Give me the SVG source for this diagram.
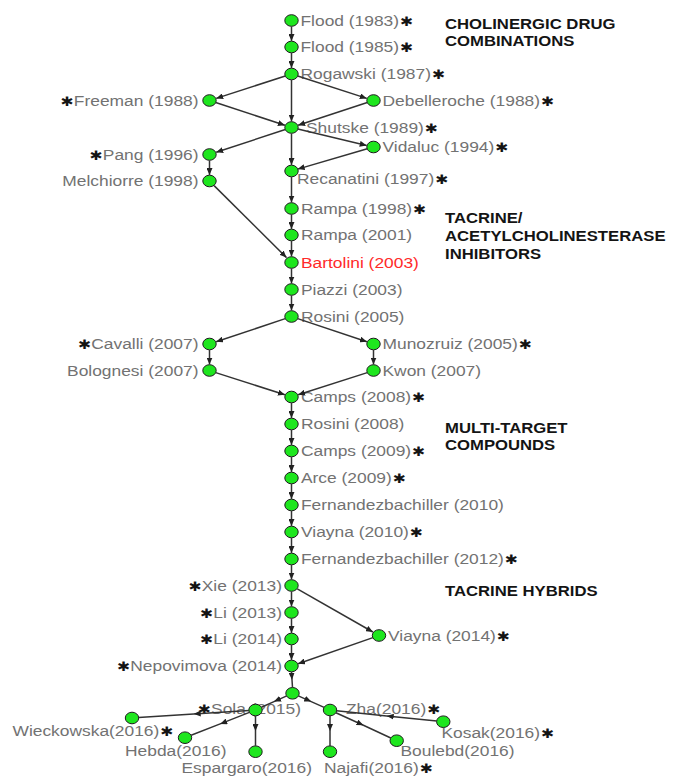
<svg xmlns="http://www.w3.org/2000/svg" width="673" height="776" viewBox="0 0 673 776">
  <style>
    .lbl{font-family:"Liberation Sans",Arial,sans-serif;font-size:14.5px;fill:#727272;transform-box:fill-box;transform-origin:0 50%;transform:scaleX(1.2)}
    .lbl.r{text-anchor:end;transform-origin:100% 50%}
    .lbl.hl{fill:#ff2a2a}
    .ast{font-family:"DejaVu Sans",sans-serif;font-size:13px;fill:#141414}
    .cat{font-family:"Liberation Sans",Arial,sans-serif;font-weight:bold;font-size:13.8px;fill:#141414;transform-box:fill-box;transform-origin:0 50%;transform:scaleX(1.21)}
    .node ellipse{fill:#1ee61e;stroke:#1c1c1c;stroke-width:1}
    .edges line,.edges polyline{stroke:#333;stroke-width:1.5;fill:none}
    .edges line{marker-end:url(#arrow)}
    .edges polyline{marker-mid:url(#arrow)}
  </style>
  <defs>
    <marker id="arrow" viewBox="0 0 7 6" refX="7" refY="3" markerWidth="7" markerHeight="6" markerUnits="userSpaceOnUse" orient="auto">
      <path d="M0,0 L7,3 L0,6 z" fill="#222"/>
    </marker>
  </defs>
  <rect width="673" height="776" fill="#fff"/>

  <!-- section headings -->
  <g id="headings">
    <text class="cat" x="445" y="29">CHOLINERGIC DRUG</text>
    <text class="cat" x="445" y="46.5">COMBINATIONS</text>
    <text class="cat" x="445" y="223.5">TACRINE/</text>
    <text class="cat" x="445" y="241.5">ACETYLCHOLINESTERASE</text>
    <text class="cat" x="445" y="259.5">INHIBITORS</text>
    <text class="cat" x="445" y="433">MULTI-TARGET</text>
    <text class="cat" x="445" y="450.5">COMPOUNDS</text>
    <text class="cat" x="445" y="596.5">TACRINE HYBRIDS</text>
  </g>

  <!-- citation nodes -->
  <g id="nodes">
    <g id="n-flood1983" class="node"><text class="lbl" x="300.5" y="26">Flood (1983)<tspan class="ast" dx="1">✱</tspan></text><ellipse cx="291.5" cy="20.5" rx="6.7" ry="5.8"/></g>
    <g id="n-flood1985" class="node"><text class="lbl" x="300.5" y="52.5">Flood (1985)<tspan class="ast" dx="1">✱</tspan></text><ellipse cx="291.5" cy="47" rx="6.7" ry="5.8"/></g>
    <g id="n-rogawski1987" class="node"><text class="lbl" x="300.5" y="79.5">Rogawski (1987)<tspan class="ast" dx="1">✱</tspan></text><ellipse cx="291.5" cy="74" rx="6.7" ry="5.8"/></g>
    <g id="n-freeman1988" class="node"><text class="lbl r" x="198.5" y="106"><tspan class="ast">✱</tspan>Freeman (1988)</text><ellipse cx="209.5" cy="100.5" rx="6.7" ry="5.8"/></g>
    <g id="n-debelleroche1988" class="node"><text class="lbl" x="382.5" y="106">Debelleroche (1988)<tspan class="ast" dx="1">✱</tspan></text><ellipse cx="373.5" cy="100.5" rx="6.7" ry="5.8"/></g>
    <g id="n-shutske1989" class="node"><text class="lbl" x="306" y="133">Shutske (1989)<tspan class="ast" dx="1">✱</tspan></text><ellipse cx="291.5" cy="127.5" rx="6.7" ry="5.8"/></g>
    <g id="n-pang1996" class="node"><text class="lbl r" x="198.5" y="160"><tspan class="ast">✱</tspan>Pang (1996)</text><ellipse cx="209.5" cy="154.5" rx="6.7" ry="5.8"/></g>
    <g id="n-vidaluc1994" class="node"><text class="lbl" x="382.5" y="152.5">Vidaluc (1994)<tspan class="ast" dx="1">✱</tspan></text><ellipse cx="373.5" cy="147" rx="6.7" ry="5.8"/></g>
    <g id="n-melchiorre1998" class="node"><text class="lbl r" x="198.5" y="186.5">Melchiorre (1998)</text><ellipse cx="209.5" cy="181" rx="6.7" ry="5.8"/></g>
    <g id="n-recanatini1997" class="node"><text class="lbl" x="297" y="184.5">Recanatini (1997)<tspan class="ast" dx="1">✱</tspan></text><ellipse cx="291.5" cy="171" rx="6.7" ry="5.8"/></g>
    <g id="n-rampa1998" class="node"><text class="lbl" x="301" y="214">Rampa (1998)<tspan class="ast" dx="1">✱</tspan></text><ellipse cx="291.5" cy="208.5" rx="6.7" ry="5.8"/></g>
    <g id="n-rampa2001" class="node"><text class="lbl" x="301" y="240.5">Rampa (2001)</text><ellipse cx="291.5" cy="235" rx="6.7" ry="5.8"/></g>
    <g id="n-bartolini2003" class="node"><text class="lbl hl" x="301" y="268">Bartolini (2003)</text><ellipse cx="291.5" cy="262.5" rx="6.7" ry="5.8"/></g>
    <g id="n-piazzi2003" class="node"><text class="lbl" x="301" y="295">Piazzi (2003)</text><ellipse cx="291.5" cy="289.5" rx="6.7" ry="5.8"/></g>
    <g id="n-rosini2005" class="node"><text class="lbl" x="301" y="322">Rosini (2005)</text><ellipse cx="291.5" cy="316.5" rx="6.7" ry="5.8"/></g>
    <g id="n-cavalli2007" class="node"><text class="lbl r" x="198.5" y="349.5"><tspan class="ast">✱</tspan>Cavalli (2007)</text><ellipse cx="209.5" cy="344" rx="6.7" ry="5.8"/></g>
    <g id="n-munozruiz2005" class="node"><text class="lbl" x="382.5" y="349.5">Munozruiz (2005)<tspan class="ast" dx="1">✱</tspan></text><ellipse cx="373.5" cy="344" rx="6.7" ry="5.8"/></g>
    <g id="n-bolognesi2007" class="node"><text class="lbl r" x="198.5" y="376">Bolognesi (2007)</text><ellipse cx="209.5" cy="370.5" rx="6.7" ry="5.8"/></g>
    <g id="n-kwon2007" class="node"><text class="lbl" x="382.5" y="376">Kwon (2007)</text><ellipse cx="373.5" cy="370.5" rx="6.7" ry="5.8"/></g>
    <g id="n-camps2008" class="node"><text class="lbl" x="301" y="402.5">Camps (2008)<tspan class="ast" dx="1">✱</tspan></text><ellipse cx="291.5" cy="397" rx="6.7" ry="5.8"/></g>
    <g id="n-rosini2008" class="node"><text class="lbl" x="301" y="429.5">Rosini (2008)</text><ellipse cx="291.5" cy="424" rx="6.7" ry="5.8"/></g>
    <g id="n-camps2009" class="node"><text class="lbl" x="301" y="456.5">Camps (2009)<tspan class="ast" dx="1">✱</tspan></text><ellipse cx="291.5" cy="451" rx="6.7" ry="5.8"/></g>
    <g id="n-arce2009" class="node"><text class="lbl" x="301" y="483.5">Arce (2009)<tspan class="ast" dx="1">✱</tspan></text><ellipse cx="291.5" cy="478" rx="6.7" ry="5.8"/></g>
    <g id="n-fernandezbachiller2010" class="node"><text class="lbl" x="301" y="510.5">Fernandezbachiller (2010)</text><ellipse cx="291.5" cy="505" rx="6.7" ry="5.8"/></g>
    <g id="n-viayna2010" class="node"><text class="lbl" x="301" y="537.5">Viayna (2010)<tspan class="ast" dx="1">✱</tspan></text><ellipse cx="291.5" cy="532" rx="6.7" ry="5.8"/></g>
    <g id="n-fernandezbachiller2012" class="node"><text class="lbl" x="301" y="564.5">Fernandezbachiller (2012)<tspan class="ast" dx="1">✱</tspan></text><ellipse cx="291.5" cy="559" rx="6.7" ry="5.8"/></g>
    <g id="n-xie2013" class="node"><text class="lbl r" x="282" y="591"><tspan class="ast">✱</tspan>Xie (2013)</text><ellipse cx="291.5" cy="585.5" rx="6.7" ry="5.8"/></g>
    <g id="n-li2013" class="node"><text class="lbl r" x="282" y="618"><tspan class="ast">✱</tspan>Li (2013)</text><ellipse cx="291.5" cy="612.5" rx="6.7" ry="5.8"/></g>
    <g id="n-li2014" class="node"><text class="lbl r" x="282" y="644.5"><tspan class="ast">✱</tspan>Li (2014)</text><ellipse cx="291.5" cy="639" rx="6.7" ry="5.8"/></g>
    <g id="n-viayna2014" class="node"><text class="lbl" x="388" y="641">Viayna (2014)<tspan class="ast" dx="1">✱</tspan></text><ellipse cx="379" cy="635.5" rx="6.7" ry="5.8"/></g>
    <g id="n-nepovimova2014" class="node"><text class="lbl r" x="282" y="671.5"><tspan class="ast">✱</tspan>Nepovimova (2014)</text><ellipse cx="291.5" cy="666" rx="6.7" ry="5.8"/></g>
    <g id="n-hub" class="node"><ellipse cx="292.5" cy="693.3" rx="6.7" ry="5.8"/></g>
    <g id="n-sola2015" class="node"><text class="lbl" x="198" y="714.5"><tspan class="ast">✱</tspan>Sola (2015)</text><ellipse cx="255.5" cy="710" rx="6.7" ry="5.8"/></g>
    <g id="n-zha2016" class="node"><text class="lbl" x="346" y="714.5">Zha(2016)<tspan class="ast" dx="1">✱</tspan></text><ellipse cx="330" cy="710" rx="6.7" ry="5.8"/></g>
    <g id="n-wieckowska2016" class="node"><text class="lbl" x="12.5" y="736.5">Wieckowska(2016)<tspan class="ast" dx="1">✱</tspan></text><ellipse cx="132" cy="718" rx="6.7" ry="5.8"/></g>
    <g id="n-hebda2016" class="node"><text class="lbl" x="125" y="756">Hebda(2016)</text><ellipse cx="185" cy="737.7" rx="6.7" ry="5.8"/></g>
    <g id="n-espargaro2016" class="node"><text class="lbl" x="181.5" y="773">Espargaro(2016)</text><ellipse cx="255.5" cy="751.7" rx="6.7" ry="5.8"/></g>
    <g id="n-najafi2016" class="node"><text class="lbl" x="324" y="773">Najafi(2016)<tspan class="ast" dx="1">✱</tspan></text><ellipse cx="330" cy="751.7" rx="6.7" ry="5.8"/></g>
    <g id="n-boulebd2016" class="node"><text class="lbl" x="400.5" y="756">Boulebd(2016)</text><ellipse cx="396.7" cy="740.7" rx="6.7" ry="5.8"/></g>
    <g id="n-kosak2016" class="node"><text class="lbl" x="441.5" y="738">Kosak(2016)<tspan class="ast" dx="1">✱</tspan></text><ellipse cx="443.3" cy="721.7" rx="6.7" ry="5.8"/></g>
  </g>

  <!-- citation links -->
  <g id="edges" class="edges">
    <line x1="291.5" y1="26.5" x2="291.5" y2="41"/>
    <line x1="291.5" y1="53" x2="291.5" y2="68"/>
    <line x1="285.3" y1="76" x2="216.2" y2="98.4"/>
    <line x1="297.7" y1="76" x2="366.8" y2="98.4"/>
    <line x1="291.5" y1="80" x2="291.5" y2="121.5"/>
    <line x1="215.7" y1="102.5" x2="284.9" y2="125.3"/>
    <line x1="367.3" y1="102.5" x2="298.1" y2="125.3"/>
    <line x1="285.3" y1="129.5" x2="216.2" y2="152.3"/>
    <line x1="297.8" y1="129" x2="366.7" y2="145.4"/>
    <line x1="291.5" y1="133.5" x2="291.5" y2="165"/>
    <line x1="367.3" y1="148.8" x2="297.7" y2="169.1"/>
    <line x1="209.5" y1="160.5" x2="209.5" y2="175"/>
    <line x1="214.1" y1="185.6" x2="286.5" y2="257.6"/>
    <line x1="291.5" y1="177" x2="291.5" y2="202.5"/>
    <line x1="291.5" y1="214.5" x2="291.5" y2="229"/>
    <line x1="291.5" y1="241" x2="291.5" y2="256.5"/>
    <line x1="291.5" y1="268.5" x2="291.5" y2="283.5"/>
    <line x1="291.5" y1="295.5" x2="291.5" y2="310.5"/>
    <line x1="285.3" y1="318.6" x2="216.1" y2="341.8"/>
    <line x1="297.7" y1="318.6" x2="366.9" y2="341.8"/>
    <line x1="209.5" y1="350" x2="209.5" y2="364.5"/>
    <line x1="373.5" y1="350" x2="373.5" y2="364.5"/>
    <line x1="215.7" y1="372.6" x2="284.9" y2="394.8"/>
    <line x1="367.3" y1="372.6" x2="298.1" y2="394.8"/>
    <line x1="291.5" y1="403" x2="291.5" y2="418"/>
    <line x1="291.5" y1="430" x2="291.5" y2="445"/>
    <line x1="291.5" y1="457" x2="291.5" y2="472"/>
    <line x1="291.5" y1="484" x2="291.5" y2="499"/>
    <line x1="291.5" y1="511" x2="291.5" y2="526"/>
    <line x1="291.5" y1="538" x2="291.5" y2="553"/>
    <line x1="291.5" y1="565" x2="291.5" y2="579.5"/>
    <line x1="291.5" y1="591.5" x2="291.5" y2="606.5"/>
    <line x1="291.5" y1="618.5" x2="291.5" y2="633"/>
    <line x1="291.5" y1="645" x2="291.5" y2="660"/>
    <line x1="297.3" y1="588.8" x2="372.9" y2="632"/>
    <line x1="372.9" y1="637.6" x2="298.1" y2="663.7"/>
    <polyline points="291.5,672 292,679.7 292.5,687.5"/>
    <polyline points="286.8,695.9 274,701.6 261.4,707.3"/>
    <polyline points="298.3,695.9 311.2,701.6 324.1,707.4"/>
    <polyline points="249,710.4 193.7,714 138.5,717.6"/>
    <polyline points="249.4,712.4 220.2,723.9 191.1,735.3"/>
    <polyline points="255.5,716 255.5,731 255.5,745.9"/>
    <polyline points="330,716 330,731 330,745.9"/>
    <polyline points="335.9,712.7 363.4,725.3 390.8,738"/>
    <polyline points="436.8,721 386.7,715.9 336.5,710.7"/>
  </g>
</svg>
